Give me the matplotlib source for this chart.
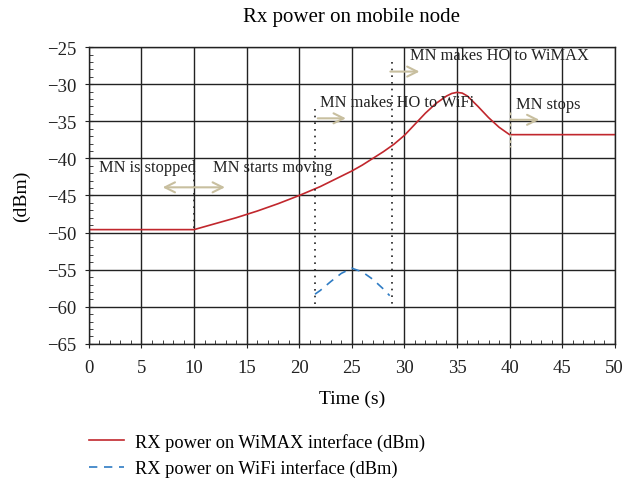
import matplotlib
matplotlib.use("Agg")
import matplotlib.pyplot as plt
from matplotlib.ticker import MultipleLocator

plt.rcParams['font.family'] = ['Liberation Serif', 'DejaVu Serif']
plt.rcParams['axes.unicode_minus'] = True

wimax_t = [0, 10, 12, 14, 16, 18, 20, 22, 24, 25, 26, 27, 28, 29, 30, 31, 32, 33, 34, 34.5, 35, 35.5, 36,
           37, 38, 39, 40, 50]
wimax_v = [-49.6, -49.6, -48.8, -48.0, -47.1, -46.1, -45.0, -43.8, -42.4, -41.7, -40.9, -40.0, -39.1, -38.1,
           -36.9, -35.4, -33.9, -32.6, -31.6, -31.25, -31.1, -31.2, -31.6, -33.0, -34.5, -35.8, -36.8, -36.8]
wifi_t = [21.5, 22, 23, 24, 25, 26, 27, 28, 28.6]
wifi_v = [-58.3, -57.8, -56.6, -55.5, -54.8, -55.3, -56.3, -57.6, -58.5]

labels = ["RX power on WiMAX interface (dBm)", "RX power on WiFi interface (dBm)"]
annotations = ["MN is stopped", "MN starts moving", "MN makes HO to WiFi", "MN makes HO to WiMAX", "MN stops"]
ann_pos = [(1.0, -41.2), (11.8, -41.2), (22.0, -32.4), (30.5, -26.1), (40.6, -32.7)]
vlines = [(10, -42.0, -50.0), (21.5, -33.4, -59.7), (28.8, -27.0, -59.7)]

fig = plt.figure(figsize=(6.26, 4.81), dpi=100)
ax = fig.add_axes([0.142, 0.283, 0.840, 0.617])

ax.plot(wimax_t, wimax_v, color='#c1272d', lw=1.2, label=labels[0])
ax.plot(wifi_t, wifi_v, color='#2f7cc4', lw=1.2, ls=(0, (5, 4)), label=labels[1])

for x, y0, y1 in vlines:
    ax.plot([x, x], [y0, y1], color='#222222', lw=1.2, ls=(0, (1, 3)))
ax.plot([40, 40], [-33.8, -38.5], color='#c8bf9f', lw=1.0, ls=(0, (2, 2)))

arrow_c = '#c8bf9f'
ax.annotate('', xy=(6.75, -43.9), xytext=(13.2, -43.9),
            arrowprops=dict(arrowstyle='<->', color=arrow_c, lw=1.5, mutation_scale=18))
for x0, x1, y in [(21.5, 24.7, -34.6), (28.4, 31.7, -28.3), (39.9, 43.1, -34.8)]:
    ax.annotate('', xy=(x1, y), xytext=(x0, y),
                arrowprops=dict(arrowstyle='->', color=arrow_c, lw=1.5, mutation_scale=18))

for txt, (x, y) in zip(annotations, ann_pos):
    ax.text(x, y, txt, fontsize=11.8, va='center', ha='left', color='#222222')

ax.set_xlim(0, 50)
ax.set_ylim(-65, -25)
ax.xaxis.set_major_locator(MultipleLocator(5))
ax.xaxis.set_minor_locator(MultipleLocator(1))
ax.yaxis.set_major_locator(MultipleLocator(5))
ax.yaxis.set_minor_locator(MultipleLocator(1))
ax.tick_params(which='both', labelsize=13.5, top=False, right=False, colors='#222222')
ax.tick_params(which='major', direction='inout', length=6, pad=6)
ax.tick_params(axis='x', which='major', pad=8)
ax.tick_params(which='minor', direction='in', length=3)
ax.grid(True, which='major', color='#222222', lw=1.0)
for s in ax.spines.values():
    s.set_color('#222222')
    s.set_linewidth(1.0)

ax.set_title("Rx power on mobile node", fontsize=15, pad=19)
ax.set_xlabel("Time (s)", fontsize=14, labelpad=10)
ax.set_ylabel("(dBm)", fontsize=14, labelpad=12)

fig.legend(loc='upper left', bbox_to_anchor=(89 / 626, 1 - 434 / 481), frameon=False, fontsize=13.2,
           handlelength=1.9, handletextpad=0.6, labelspacing=0.45, borderaxespad=0, borderpad=0)

fig.savefig("out.png", dpi=100)
